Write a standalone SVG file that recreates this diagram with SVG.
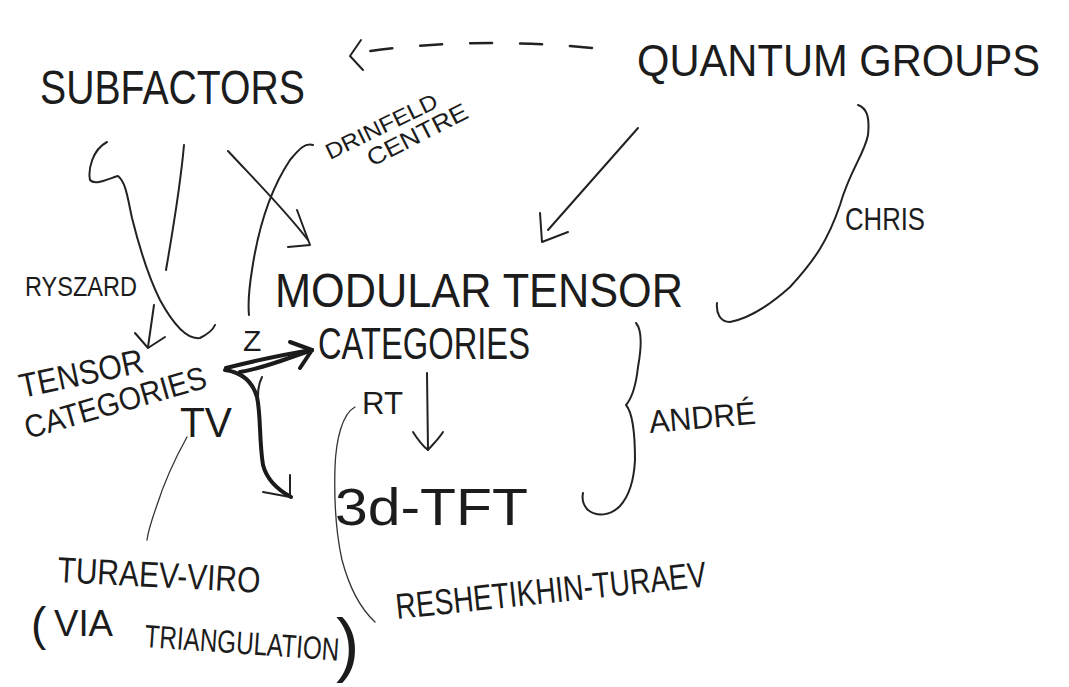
<svg xmlns="http://www.w3.org/2000/svg" width="1069" height="687" viewBox="0 0 1069 687">
<style>
text{font-family:"Liberation Sans",Arial,sans-serif;fill:#1c1c1c;}
.ln{fill:none;stroke:#222;stroke-width:2;stroke-linecap:round;stroke-linejoin:round;}
.thin{fill:none;stroke:#333;stroke-width:1.3;stroke-linecap:round;}
.thick{fill:none;stroke:#1a1a1a;stroke-width:4;stroke-linecap:round;stroke-linejoin:round;}
.dash{fill:none;stroke:#222;stroke-width:2.5;stroke-linecap:round;stroke-dasharray:22 28;}
</style>
<rect width="1069" height="687" fill="#ffffff"/>

<g id="connectors">
  <!-- Quantum groups -> Subfactors (dashed) -->
  <path class="dash" d="M592 48 Q470 36 356 53"/>
  <path class="ln" d="M361 40 L350 56 L363 70"/>
  <!-- Subfactors -> Tensor categories (Ryszard) -->
  <path class="ln" d="M107 142 C92 150 88 170 90 180 C95 186 110 178 118 176 C126 182 128 200 132 218 C140 250 150 280 160 300 C172 322 186 340 200 338 C208 334 213 330 215 325"/>
  <path class="ln" d="M184 145 C180 190 172 235 166 270"/>
  <path class="ln" d="M154 305 L148 347"/>
  <path class="ln" d="M135 333 L148 348 L165 337"/>
  <!-- Subfactors -> Modular tensor categories -->
  <path class="ln" d="M228 151 C255 180 285 210 308 240"/>
  <path class="ln" d="M297 210 L310 245 L288 247"/>
  <!-- Drinfeld centre curve -->
  <path class="ln" d="M313 145 C305 143 300 148 290 160 C270 190 258 230 252 270 C248 295 248 305 249 315"/>
  <!-- Quantum groups -> Modular tensor categories -->
  <path class="ln" d="M638 128 L548 230"/>
  <path class="ln" d="M540 213 L542 242 L568 232"/>
  <!-- Chris curve -->
  <path class="ln" d="M858 105 C866 108 870 115 868 135 C864 155 850 170 840 205 C828 240 815 260 790 287 C770 305 750 318 730 322 C720 322 716 313 717 303"/>
  <!-- Z arrow: tensor categories -> MTC -->
  <path class="thick" d="M226 368 C250 362 280 355 312 350"/>
  <path class="thick" d="M240 372 C265 368 288 358 312 350"/>
  <path class="thick" d="M290 342 L312 350 L300 368"/>
  <!-- TV arrow: tensor categories -> down -->
  <path class="thick" d="M225 370 C240 372 252 380 257 397 C261 415 259 440 263 465 C267 480 278 490 291 497"/>
  <path class="ln" d="M232 372 C247 378 256 386 258 400"/>
  <path class="ln" d="M262 377 C258 385 258 392 258 400"/>
  <path class="ln" d="M290 475 L290 497 L263 492"/>
  <!-- TV curve to Turaev-Viro -->
  <path class="thin" d="M187 437 C177 455 165 480 157 505 C151 522 148 532 147 540"/>
  <!-- RT arrow -->
  <path class="ln" d="M427 373 L428 450"/>
  <path class="ln" d="M413 432 C418 440 424 447 428 450 C432 445 438 440 443 432"/>
  <!-- RT curve to Reshetikhin-Turaev -->
  <path class="thin" d="M355 407 C342 414 336 440 335 467 C334 500 336 533 342 560 C350 590 362 610 375 622"/>
  <!-- Andre curve -->
  <path class="ln" d="M636 323 C642 330 642 345 638 367 C636 385 632 398 626 405 C632 412 635 430 635 460 C634 480 630 495 620 506 C610 516 597 517 588 510 C583 505 582 498 583 493"/>
</g>

<g id="n-subfactors">
  <text x="40" y="104" font-size="48" textLength="265" lengthAdjust="spacingAndGlyphs">SUBFACTORS</text>
</g>
<g id="n-quantum-groups">
  <text x="637" y="76" font-size="44" textLength="403" lengthAdjust="spacingAndGlyphs">QUANTUM GROUPS</text>
</g>
<g id="n-modular-tensor-categories">
  <text x="275" y="307" font-size="48" textLength="408" lengthAdjust="spacingAndGlyphs">MODULAR TENSOR</text>
  <text x="318" y="359" font-size="44" textLength="212" lengthAdjust="spacingAndGlyphs">CATEGORIES</text>
</g>
<g id="n-tensor-categories">
  <text x="22" y="398" font-size="34" textLength="126" lengthAdjust="spacingAndGlyphs" transform="rotate(-12 22 398)">TENSOR</text>
  <text x="28" y="439" font-size="32" textLength="188" lengthAdjust="spacingAndGlyphs" transform="rotate(-16 28 439)">CATEGORIES</text>
</g>
<g id="n-3d-tft">
  <text x="335" y="525" font-size="52" textLength="193" lengthAdjust="spacingAndGlyphs">3d-TFT</text>
</g>
<g id="n-turaev-viro">
  <text x="57" y="582" font-size="36" textLength="203" lengthAdjust="spacingAndGlyphs" transform="rotate(3 57 582)">TURAEV-VIRO</text>
  <text x="31" y="640" font-size="46">(</text>
  <text x="54" y="636" font-size="36" textLength="59" lengthAdjust="spacingAndGlyphs">VIA</text>
  <text x="144" y="647" font-size="32" textLength="195" lengthAdjust="spacingAndGlyphs" transform="rotate(4 144 647)">TRIANGULATION</text>
  <text x="336" y="668" font-size="70">)</text>
</g>
<g id="n-reshetikhin-turaev">
  <text x="397" y="619" font-size="36" textLength="312" lengthAdjust="spacingAndGlyphs" transform="rotate(-6 397 619)">RESHETIKHIN-TURAEV</text>
</g>

<g id="labels">
  <text x="25" y="296" font-size="28" textLength="112" lengthAdjust="spacingAndGlyphs">RYSZARD</text>
  <text x="330" y="160" font-size="22" textLength="122" lengthAdjust="spacingAndGlyphs" transform="rotate(-26 330 160)">DRINFELD</text>
  <text x="372" y="167" font-size="24" textLength="110" lengthAdjust="spacingAndGlyphs" transform="rotate(-27 372 167)">CENTRE</text>
  <text x="243" y="351" font-size="30">Z</text>
  <text x="180" y="437" font-size="42" textLength="52" lengthAdjust="spacingAndGlyphs">TV</text>
  <text x="362" y="414" font-size="32" textLength="41" lengthAdjust="spacingAndGlyphs">RT</text>
  <text x="650" y="433" font-size="32" textLength="107" lengthAdjust="spacingAndGlyphs" transform="rotate(-5 650 433)">ANDRÉ</text>
  <text x="845" y="230" font-size="32" textLength="80" lengthAdjust="spacingAndGlyphs">CHRIS</text>
</g>
</svg>
